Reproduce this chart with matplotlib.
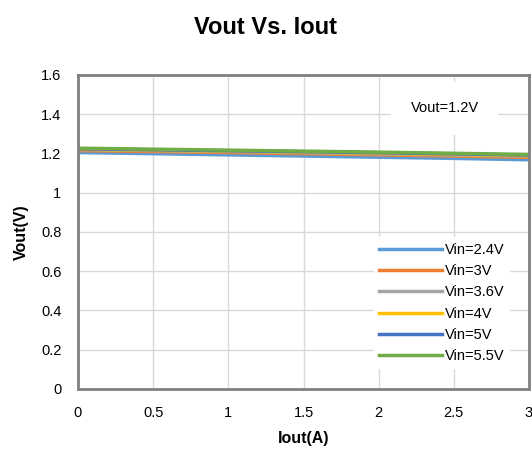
import matplotlib.pyplot as plt
import numpy as np

iout = [0, 0.5, 1, 1.5, 2, 2.5, 3]
labels = ['Vin=2.4V', 'Vin=3V', 'Vin=3.6V', 'Vin=4V', 'Vin=5V', 'Vin=5.5V']
v_24 = [1.205, 1.199, 1.193, 1.187, 1.181, 1.175, 1.168]
v_30 = [1.215, 1.210, 1.205, 1.199, 1.193, 1.187, 1.180]
v_36 = [1.220, 1.215, 1.210, 1.204, 1.198, 1.192, 1.186]
v_40 = [1.222, 1.217, 1.212, 1.207, 1.201, 1.195, 1.189]
v_50 = [1.224, 1.219, 1.214, 1.209, 1.204, 1.198, 1.192]
v_55 = [1.227, 1.222, 1.217, 1.212, 1.207, 1.201, 1.195]
colors = ['#5B9BD5', '#ED7D31', '#A5A5A5', '#FFC000', '#4472C4', '#70AD47']

plt.rcParams['font.family'] = ['Liberation Sans', 'DejaVu Sans']

fig = plt.figure(figsize=(5.32, 4.57), dpi=100)
ax = fig.add_axes([0.1466, 0.1488, 0.8478, 0.6871])

for vals, lab, c in zip([v_24, v_30, v_36, v_40, v_50, v_55], labels, colors):
    ax.plot(iout, vals, color=c, lw=2.5, label=lab)

ax.set_xlim(0, 3)
ax.set_ylim(0, 1.6)
ax.set_xticks(np.arange(0, 3.01, 0.5))
ax.set_xticklabels(['0', '0.5', '1', '1.5', '2', '2.5', '3'])
ax.set_yticks(np.arange(0, 1.61, 0.2))
ax.set_yticklabels(['0', '0.2', '0.4', '0.6', '0.8', '1', '1.2', '1.4', '1.6'])
ax.grid(True, color='#d9d9d9', lw=1)
ax.set_axisbelow(True)
ax.tick_params(length=0, labelsize=10.5, pad=12)
for s in ax.spines.values():
    s.set_color('#808080')
    s.set_linewidth(2)

ax.set_xlabel('Iout(A)', fontsize=11.5, fontweight='bold', labelpad=8)
ax.set_ylabel('Vout(V)', fontsize=11.5, fontweight='bold', labelpad=9)
fig.suptitle('Vout Vs. Iout', fontsize=17, fontweight='bold', y=0.965)

# annotation box, top right
ax.text(2.44, 1.43, 'Vout=1.2V', fontsize=10.5, ha='center', va='center',
        bbox=dict(facecolor='white', edgecolor='none', pad=14))

leg = ax.legend(loc='lower right', bbox_to_anchor=(0.975, 0.04), fontsize=10.5,
                frameon=True, fancybox=False, handlelength=4.3, handletextpad=0.2,
                labelspacing=0.5, borderpad=0.4)
leg.get_frame().set_edgecolor('none')
leg.get_frame().set_facecolor('white')
leg.get_frame().set_alpha(1)

fig.savefig('out.png', dpi=100)
